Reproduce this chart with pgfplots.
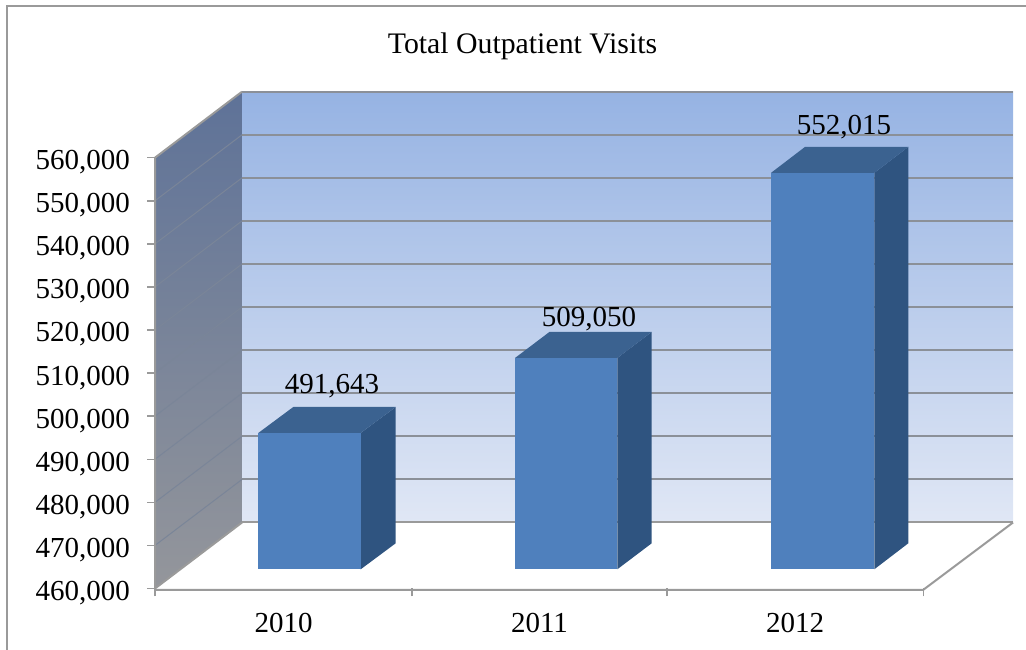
\documentclass[border=0pt]{standalone}
\usepackage{pgfplots}
\pgfplotsset{compat=1.18}
\usepackage{fontspec}
\setmainfont{Liberation Serif}
\definecolor{edge}{HTML}{9A9A9A}
\definecolor{gridgray}{HTML}{8B9098}
\definecolor{wallgrid}{HTML}{7A8598}
\definecolor{barfront}{HTML}{4F80BD}
\definecolor{barside}{HTML}{2F5480}
\definecolor{bartop}{HTML}{3B6290}
\definecolor{backtop}{RGB}{150,179,227}
\definecolor{backbottom}{RGB}{224,231,245}
\definecolor{sidetop}{RGB}{94,114,152}
\definecolor{sidebottom}{RGB}{148,150,155}
\newcommand{\chartfont}{\fontsize{29}{32}\selectfont}
\begin{document}
\begin{tikzpicture}
\path[use as bounding box] (0,0) rectangle (1026pt,650pt);
% outer chart border: left and top only
\draw[edge, line width=2pt] (6.5pt,0) -- (6.5pt,643.5pt) -- (1026pt,643.5pt);
\begin{axis}[
  at={(155pt,61.5pt)}, anchor=south west,
  scale only axis, width=768.3pt, height=430.8pt,
  xmin=155, xmax=923.3, ymin=460000, ymax=560000,
  clip=false, no markers,
  axis line style={draw=none},
  tick align=outside, major tick length=8pt,
  xtick pos=bottom, ytick pos=left,
  tick style={edge, line width=1.5pt},
  xtick={155,412,667,923.3}, xticklabels={},
  extra x ticks={283.5,539.5,795},
  extra x tick labels={2010,2011,2012},
  extra x tick style={major tick length=0pt, tick style={draw=none}},
  ytick={460000,470000,480000,490000,500000,510000,520000,530000,540000,550000,560000},
  yticklabels={460{,}000,470{,}000,480{,}000,490{,}000,500{,}000,510{,}000,520{,}000,530{,}000,540{,}000,550{,}000,560{,}000},
  scaled ticks=false,
  ticklabel style={font=\chartfont},
  yticklabel style={inner sep=0pt, xshift=-17pt, yshift=-4.5pt},
  xticklabel style={inner sep=0pt, yshift=-25pt},
  title={Total Outpatient Visits},
  title style={at={(0.4783,1.2268)}, anchor=base, yshift=0pt, inner sep=0pt, font=\fontsize{29.8}{32}\selectfont},
]
% back wall
\addplot[draw=none, shade, top color=backtop, bottom color=backbottom]
  coordinates {(242,575320)(1013,575320)(1013,475320)(242,475320)} -- cycle;
% side wall
\addplot[draw=none, shade, top color=sidetop, bottom color=sidebottom]
  coordinates {(155,560000)(242,575320)(242,475320)(155,460000)} -- cycle;
% gridlines on the back wall
\addplot[gridgray, line width=2pt] coordinates {(242,575320)(1013,575320)};
\addplot[gridgray, line width=2pt] coordinates {(242,565320)(1013,565320)};
\addplot[gridgray, line width=2pt] coordinates {(242,555320)(1013,555320)};
\addplot[gridgray, line width=2pt] coordinates {(242,545320)(1013,545320)};
\addplot[gridgray, line width=2pt] coordinates {(242,535320)(1013,535320)};
\addplot[gridgray, line width=2pt] coordinates {(242,525320)(1013,525320)};
\addplot[gridgray, line width=2pt] coordinates {(242,515320)(1013,515320)};
\addplot[gridgray, line width=2pt] coordinates {(242,505320)(1013,505320)};
\addplot[gridgray, line width=2pt] coordinates {(242,495320)(1013,495320)};
\addplot[gridgray, line width=2pt] coordinates {(242,485320)(1013,485320)};
\addplot[edge, line width=2pt] coordinates {(242,475320)(1013,475320)};
% gridlines on the side wall
\addplot[wallgrid, line width=1pt] coordinates {(155,550000)(242,565320)};
\addplot[wallgrid, line width=1pt] coordinates {(155,540000)(242,555320)};
\addplot[wallgrid, line width=1pt] coordinates {(155,530000)(242,545320)};
\addplot[wallgrid, line width=1pt] coordinates {(155,520000)(242,535320)};
\addplot[wallgrid, line width=1pt] coordinates {(155,510000)(242,525320)};
\addplot[wallgrid, line width=1pt] coordinates {(155,500000)(242,515320)};
\addplot[wallgrid, line width=1pt] coordinates {(155,490000)(242,505320)};
\addplot[wallgrid, line width=1pt] coordinates {(155,480000)(242,495320)};
\addplot[wallgrid, line width=1pt] coordinates {(155,470000)(242,485320)};
% wall and floor outline
\addplot[edge, line width=2pt] coordinates {(155,460000)(155,560000)(242,575320)};
\addplot[edge, line width=2pt] coordinates {(155,460000)(242,475320)};
\addplot[edge, line width=2pt] coordinates {(155,459700)(923.3,459700)(1013,475320)};
% bars: side, top and front faces, lifted onto the floor
\begin{scope}[yshift=9.6pt]
\addplot[draw=none, fill=barside] coordinates {(360.7,460000)(395.7,466035)(395.7,497678)(360.7,491643)} -- cycle;
\addplot[draw=none, fill=bartop] coordinates {(258.3,491643)(293.3,497678)(395.7,497678)(360.7,491643)} -- cycle;
\addplot[draw=none, fill=barfront] coordinates {(258.3,460000)(360.7,460000)(360.7,491643)(258.3,491643)} -- cycle;
\addplot[draw=none, fill=barside] coordinates {(617.3,460000)(651.7,466035)(651.7,515085)(617.3,509050)} -- cycle;
\addplot[draw=none, fill=bartop] coordinates {(515,509050)(549.4,515085)(651.7,515085)(617.3,509050)} -- cycle;
\addplot[draw=none, fill=barfront] coordinates {(515,460000)(617.3,460000)(617.3,509050)(515,509050)} -- cycle;
\addplot[draw=none, fill=barside] coordinates {(874.3,460000)(908.3,466035)(908.3,558050)(874.3,552015)} -- cycle;
\addplot[draw=none, fill=bartop] coordinates {(771,552015)(805,558050)(908.3,558050)(874.3,552015)} -- cycle;
\addplot[draw=none, fill=barfront] coordinates {(771,460000)(874.3,460000)(874.3,552015)(771,552015)} -- cycle;
\end{scope}
% value labels
\node[anchor=base, inner sep=0pt, font=\chartfont] at (axis cs:332,505149) {491,643};
\node[anchor=base, inner sep=0pt, font=\chartfont] at (axis cs:589,520817) {509,050};
\node[anchor=base, inner sep=0pt, font=\chartfont] at (axis cs:844,565269) {552,015};
\end{axis}
\end{tikzpicture}
\end{document}
